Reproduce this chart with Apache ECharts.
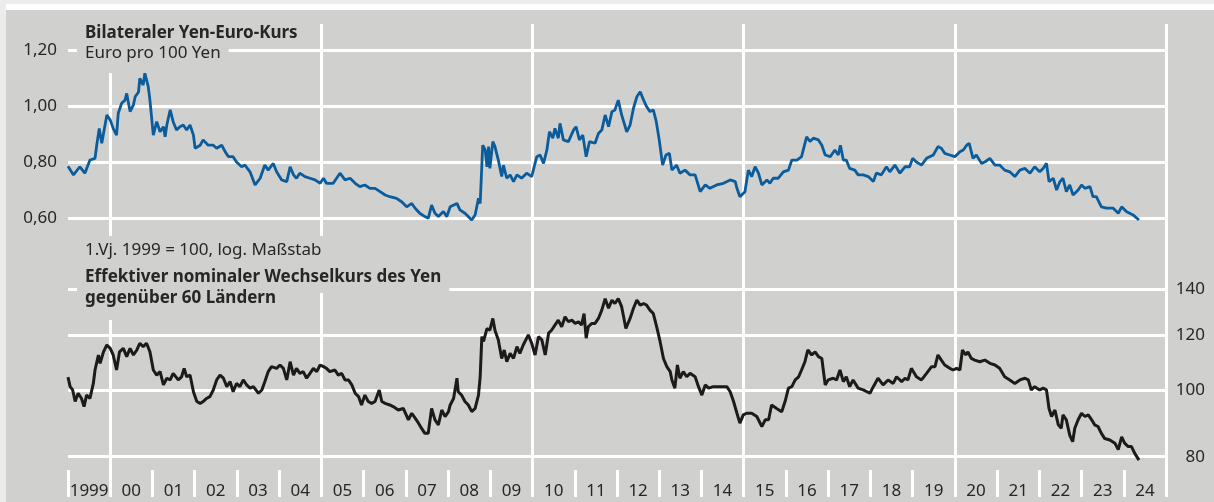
<!DOCTYPE html>
<html>
<head>
<meta charset="utf-8">
<script src="https://cdn.jsdelivr.net/npm/echarts@6/dist/echarts.min.js"></script>
<style>
  html, body { margin: 0; padding: 0; background: #ececec; }
  .strip { position: absolute; left: 6px; top: 4px; width: 1208px; height: 6px; background: #fff; }
  .panel { position: absolute; left: 6px; top: 10px; width: 1208px; height: 492px; background: #d0d0ce; }
  #chart { position: absolute; left: 0; top: 0; width: 1214px; height: 502px; }
</style>
</head>
<body>
<div class="strip"></div>
<div class="panel"></div>
<div id="chart"></div>
<script>
// Jahresachse
const years = ['1999', '00', '01', '02', '03', '04', '05', '06', '07', '08', '09', '10', '11', '12',
  '13', '14', '15', '16', '17', '18', '19', '20', '21', '22', '23', '24']
// Achsenbeschriftung unten (log. Maßstab)
const effTicks = [80, 100, 120, 140]

// Euro pro 100 Yen
const euroKurs = [
  [1999.00, 0.785], [1999.13, 0.754], [1999.28, 0.783], [1999.40, 0.760], [1999.52, 0.807], [1999.64, 0.813],
  [1999.68, 0.860], [1999.74, 0.920], [1999.80, 0.867], [1999.92, 0.968], [2000.00, 0.950], [2000.07, 0.920],
  [2000.15, 0.896], [2000.19, 0.974], [2000.27, 1.010], [2000.35, 1.021], [2000.39, 1.045], [2000.47, 0.980],
  [2000.55, 1.004], [2000.59, 1.033], [2000.67, 1.050], [2000.70, 1.099], [2000.78, 1.075], [2000.82, 1.117],
  [2000.90, 1.069], [2000.94, 1.021], [2001.02, 0.896], [2001.10, 0.944], [2001.18, 0.908], [2001.26, 0.926],
  [2001.30, 0.890], [2001.34, 0.932], [2001.42, 0.986], [2001.49, 0.944], [2001.57, 0.914], [2001.65, 0.926],
  [2001.73, 0.932], [2001.81, 0.914], [2001.89, 0.932], [2001.97, 0.896], [2002.01, 0.849], [2002.13, 0.860],
  [2002.20, 0.879], [2002.32, 0.860], [2002.44, 0.860], [2002.52, 0.849], [2002.64, 0.860], [2002.72, 0.837],
  [2002.80, 0.819], [2002.91, 0.819], [2002.99, 0.800], [2003.11, 0.783], [2003.19, 0.789], [2003.31, 0.765],
  [2003.43, 0.718], [2003.55, 0.742], [2003.66, 0.789], [2003.74, 0.771], [2003.86, 0.795], [2003.94, 0.765],
  [2004.06, 0.736], [2004.18, 0.730], [2004.26, 0.783], [2004.34, 0.754], [2004.41, 0.742], [2004.49, 0.760],
  [2004.61, 0.748], [2004.73, 0.742], [2004.85, 0.736], [2004.97, 0.724], [2005.05, 0.742], [2005.12, 0.724],
  [2005.28, 0.724], [2005.44, 0.760], [2005.56, 0.736], [2005.68, 0.742], [2005.80, 0.724], [2005.91, 0.712],
  [2006.03, 0.718], [2006.15, 0.706], [2006.27, 0.706], [2006.39, 0.694], [2006.51, 0.682], [2006.62, 0.676],
  [2006.78, 0.670], [2006.90, 0.658], [2007.02, 0.640], [2007.14, 0.652], [2007.22, 0.635], [2007.33, 0.617],
  [2007.45, 0.605], [2007.53, 0.599], [2007.61, 0.646], [2007.69, 0.617], [2007.77, 0.605], [2007.89, 0.623],
  [2007.97, 0.605], [2008.05, 0.640], [2008.09, 0.646], [2008.21, 0.652], [2008.28, 0.629], [2008.40, 0.617],
  [2008.56, 0.593], [2008.64, 0.611], [2008.72, 0.670], [2008.76, 0.652], [2008.82, 0.860], [2008.88, 0.843],
  [2008.92, 0.783], [2008.96, 0.855], [2008.99, 0.777], [2009.06, 0.873], [2009.11, 0.855], [2009.19, 0.807],
  [2009.27, 0.748], [2009.31, 0.789], [2009.39, 0.742], [2009.47, 0.754], [2009.55, 0.730], [2009.63, 0.754],
  [2009.74, 0.742], [2009.86, 0.760], [2009.98, 0.748], [2010.10, 0.819], [2010.18, 0.825], [2010.26, 0.795],
  [2010.34, 0.843], [2010.40, 0.908], [2010.48, 0.885], [2010.53, 0.920], [2010.61, 0.885], [2010.65, 0.938],
  [2010.73, 0.879], [2010.85, 0.873], [2010.97, 0.914], [2011.03, 0.926], [2011.11, 0.879], [2011.19, 0.896],
  [2011.27, 0.819], [2011.35, 0.873], [2011.48, 0.867], [2011.56, 0.902], [2011.64, 0.914], [2011.72, 0.968],
  [2011.80, 0.926], [2011.88, 0.980], [2011.95, 0.986], [2012.03, 1.021], [2012.11, 0.968], [2012.23, 0.908],
  [2012.31, 0.932], [2012.39, 0.992], [2012.47, 1.033], [2012.55, 1.051], [2012.63, 1.021], [2012.70, 0.998],
  [2012.78, 0.980], [2012.86, 0.986], [2012.93, 0.944], [2013.00, 0.879], [2013.08, 0.789], [2013.16, 0.825],
  [2013.24, 0.831], [2013.30, 0.771], [2013.41, 0.789], [2013.49, 0.760], [2013.61, 0.771], [2013.73, 0.754],
  [2013.85, 0.754], [2013.97, 0.694], [2014.09, 0.718], [2014.20, 0.706], [2014.36, 0.718], [2014.52, 0.724],
  [2014.68, 0.736], [2014.80, 0.730], [2014.84, 0.706], [2014.91, 0.676], [2015.03, 0.694], [2015.11, 0.771],
  [2015.19, 0.748], [2015.27, 0.783], [2015.35, 0.760], [2015.43, 0.718], [2015.55, 0.736], [2015.62, 0.724],
  [2015.70, 0.742], [2015.82, 0.742], [2015.94, 0.765], [2016.06, 0.771], [2016.14, 0.807], [2016.26, 0.807],
  [2016.37, 0.819], [2016.49, 0.890], [2016.57, 0.873], [2016.65, 0.885], [2016.77, 0.879], [2016.85, 0.860],
  [2016.93, 0.825], [2017.05, 0.819], [2017.08, 0.825], [2017.16, 0.843], [2017.24, 0.825], [2017.29, 0.860],
  [2017.36, 0.807], [2017.43, 0.807], [2017.51, 0.777], [2017.63, 0.771], [2017.71, 0.754], [2017.83, 0.754],
  [2017.95, 0.748], [2018.07, 0.730], [2018.14, 0.760], [2018.26, 0.754], [2018.38, 0.783], [2018.46, 0.765],
  [2018.58, 0.789], [2018.70, 0.760], [2018.82, 0.783], [2018.93, 0.783], [2019.00, 0.813], [2019.09, 0.800],
  [2019.21, 0.789], [2019.33, 0.813], [2019.49, 0.825], [2019.60, 0.855], [2019.68, 0.849], [2019.76, 0.831],
  [2019.88, 0.825], [2020.00, 0.819], [2020.12, 0.837], [2020.20, 0.843], [2020.28, 0.860], [2020.34, 0.867],
  [2020.43, 0.813], [2020.51, 0.825], [2020.63, 0.795], [2020.71, 0.800], [2020.83, 0.813], [2020.95, 0.789],
  [2021.06, 0.789], [2021.18, 0.771], [2021.30, 0.765], [2021.42, 0.748], [2021.54, 0.771], [2021.66, 0.777],
  [2021.78, 0.760], [2021.89, 0.783], [2022.01, 0.765], [2022.09, 0.777], [2022.17, 0.795], [2022.23, 0.730],
  [2022.33, 0.742], [2022.41, 0.700], [2022.49, 0.730], [2022.56, 0.742], [2022.64, 0.694], [2022.72, 0.718],
  [2022.80, 0.682], [2022.92, 0.700], [2023.00, 0.718], [2023.08, 0.706], [2023.20, 0.712], [2023.27, 0.676],
  [2023.35, 0.676], [2023.47, 0.640], [2023.59, 0.635], [2023.75, 0.635], [2023.87, 0.617], [2023.95, 0.640],
  [2024.06, 0.623], [2024.22, 0.611], [2024.36, 0.593]
]

// Effektiver nominaler Wechselkurs, 1.Vj. 1999 = 100
const effektiv = [
  [1999.00, 104.4], [1999.05, 101.1], [1999.11, 100.0], [1999.17, 96.2], [1999.24, 98.9], [1999.32, 97.2],
  [1999.38, 94.6], [1999.44, 98.3], [1999.52, 97.2], [1999.60, 102.2], [1999.64, 106.9], [1999.72, 112.4],
  [1999.76, 109.3], [1999.84, 113.6], [1999.92, 116.2], [2000.00, 114.9], [2000.07, 112.4], [2000.15, 106.9],
  [2000.22, 113.6], [2000.31, 114.9], [2000.39, 111.8], [2000.47, 114.9], [2000.55, 112.4], [2000.63, 114.3],
  [2000.70, 116.9], [2000.78, 115.6], [2000.86, 116.9], [2000.94, 113.6], [2001.02, 106.9], [2001.10, 105.1],
  [2001.18, 106.3], [2001.26, 101.7], [2001.34, 104.0], [2001.42, 103.4], [2001.49, 105.7], [2001.61, 103.4],
  [2001.69, 104.5], [2001.75, 107.5], [2001.81, 104.5], [2001.89, 105.1], [2001.97, 99.4], [2002.05, 96.2],
  [2002.13, 95.6], [2002.20, 96.2], [2002.28, 97.2], [2002.36, 97.8], [2002.44, 100.0], [2002.52, 103.4],
  [2002.60, 105.1], [2002.68, 104.0], [2002.76, 101.1], [2002.84, 102.8], [2002.91, 99.4], [2002.99, 102.2],
  [2003.07, 101.1], [2003.15, 103.4], [2003.23, 101.7], [2003.31, 100.6], [2003.39, 101.1], [2003.51, 98.9],
  [2003.59, 100.0], [2003.66, 102.8], [2003.74, 106.3], [2003.82, 108.1], [2003.94, 107.5], [2004.02, 108.7],
  [2004.10, 107.5], [2004.18, 103.4], [2004.26, 109.9], [2004.34, 105.1], [2004.41, 107.5], [2004.49, 105.7],
  [2004.57, 106.3], [2004.65, 104.0], [2004.73, 105.7], [2004.81, 107.5], [2004.89, 106.3], [2004.97, 108.7],
  [2005.05, 108.1], [2005.12, 107.5], [2005.20, 106.3], [2005.32, 106.9], [2005.40, 105.1], [2005.48, 105.7],
  [2005.56, 103.4], [2005.64, 103.4], [2005.72, 101.7], [2005.80, 98.9], [2005.88, 97.8], [2005.95, 95.1],
  [2006.03, 98.3], [2006.11, 96.2], [2006.19, 95.6], [2006.27, 96.2], [2006.37, 100.0], [2006.43, 96.2],
  [2006.51, 95.6], [2006.62, 95.1], [2006.70, 94.6], [2006.82, 93.5], [2006.94, 94.0], [2007.06, 90.5],
  [2007.14, 92.5], [2007.22, 91.0], [2007.30, 89.5], [2007.37, 88.0], [2007.45, 86.5], [2007.53, 86.5],
  [2007.61, 94.0], [2007.69, 90.5], [2007.77, 89.0], [2007.85, 93.5], [2007.93, 91.5], [2008.01, 93.0],
  [2008.05, 95.1], [2008.13, 97.2], [2008.21, 104.0], [2008.24, 99.4], [2008.32, 98.3], [2008.40, 96.2],
  [2008.48, 95.1], [2008.56, 93.0], [2008.64, 94.0], [2008.72, 98.3], [2008.76, 104.5], [2008.80, 119.5],
  [2008.84, 117.6], [2008.92, 122.8], [2008.99, 122.1], [2009.06, 127.0], [2009.11, 122.1], [2009.19, 118.2],
  [2009.27, 111.1], [2009.33, 114.3], [2009.39, 109.9], [2009.47, 113.0], [2009.55, 111.1], [2009.63, 115.6],
  [2009.70, 113.0], [2009.78, 116.2], [2009.90, 120.2], [2009.98, 116.9], [2010.06, 112.4], [2010.14, 119.5],
  [2010.22, 118.2], [2010.30, 112.4], [2010.38, 120.9], [2010.45, 122.1], [2010.53, 124.2], [2010.61, 126.3],
  [2010.69, 123.5], [2010.77, 127.7], [2010.85, 125.6], [2010.93, 126.3], [2011.01, 124.9], [2011.09, 125.6],
  [2011.16, 124.2], [2011.22, 129.1], [2011.27, 118.9], [2011.32, 123.5], [2011.40, 124.9], [2011.48, 124.9],
  [2011.56, 127.0], [2011.64, 130.6], [2011.72, 135.7], [2011.80, 131.4], [2011.88, 135.0], [2011.95, 133.5],
  [2012.03, 135.7], [2012.11, 132.1], [2012.21, 122.8], [2012.31, 127.0], [2012.39, 131.4], [2012.47, 135.0],
  [2012.55, 132.8], [2012.63, 133.5], [2012.70, 132.8], [2012.78, 130.6], [2012.86, 129.1], [2012.94, 123.5],
  [2013.02, 117.6], [2013.10, 111.1], [2013.18, 108.1], [2013.26, 106.3], [2013.30, 103.4], [2013.37, 100.6],
  [2013.43, 108.7], [2013.49, 104.0], [2013.57, 106.3], [2013.65, 104.5], [2013.73, 105.7], [2013.85, 104.5],
  [2013.93, 101.1], [2014.01, 98.3], [2014.09, 101.7], [2014.17, 100.6], [2014.28, 101.1], [2014.40, 101.1],
  [2014.52, 101.1], [2014.60, 101.1], [2014.68, 99.4], [2014.76, 96.2], [2014.84, 92.5], [2014.91, 89.5],
  [2014.99, 92.0], [2015.07, 92.5], [2015.19, 92.5], [2015.31, 91.5], [2015.43, 88.5], [2015.51, 90.5],
  [2015.59, 90.5], [2015.66, 95.1], [2015.78, 94.0], [2015.90, 93.0], [2015.98, 96.2], [2016.06, 100.6],
  [2016.14, 101.1], [2016.22, 103.4], [2016.30, 104.5], [2016.37, 106.9], [2016.45, 109.9], [2016.52, 114.3],
  [2016.61, 112.4], [2016.69, 113.6], [2016.77, 111.8], [2016.85, 111.1], [2016.93, 101.7], [2017.00, 103.4],
  [2017.12, 104.0], [2017.20, 103.4], [2017.28, 106.9], [2017.36, 102.8], [2017.43, 104.5], [2017.51, 101.1],
  [2017.59, 103.4], [2017.71, 100.6], [2017.83, 100.0], [2017.99, 98.9], [2018.07, 101.1], [2018.18, 104.0],
  [2018.30, 101.7], [2018.42, 103.4], [2018.54, 102.2], [2018.62, 104.5], [2018.74, 102.8], [2018.82, 104.0],
  [2018.89, 103.4], [2018.97, 107.5], [2019.09, 104.5], [2019.21, 103.4], [2019.33, 105.7], [2019.45, 108.1],
  [2019.53, 108.1], [2019.60, 112.4], [2019.68, 110.5], [2019.76, 108.7], [2019.88, 107.5], [2019.96, 106.9],
  [2020.04, 107.5], [2020.12, 106.9], [2020.18, 114.3], [2020.26, 112.4], [2020.31, 113.6], [2020.39, 111.1],
  [2020.47, 110.5], [2020.59, 109.9], [2020.71, 110.5], [2020.83, 109.3], [2020.95, 108.7], [2021.06, 107.5],
  [2021.18, 104.5], [2021.30, 103.4], [2021.42, 102.2], [2021.54, 103.4], [2021.66, 104.0], [2021.74, 103.4],
  [2021.81, 100.0], [2021.89, 101.1], [2022.01, 100.0], [2022.09, 100.6], [2022.17, 100.0], [2022.23, 94.0],
  [2022.29, 91.5], [2022.37, 93.5], [2022.45, 89.0], [2022.52, 88.0], [2022.56, 92.0], [2022.64, 90.5],
  [2022.72, 86.0], [2022.79, 84.1], [2022.84, 88.0], [2022.92, 90.5], [2023.00, 92.5], [2023.08, 91.5],
  [2023.16, 92.0], [2023.24, 90.5], [2023.31, 89.0], [2023.39, 88.5], [2023.47, 86.5], [2023.55, 85.0],
  [2023.67, 84.6], [2023.79, 83.7], [2023.87, 81.9], [2023.95, 85.5], [2024.02, 83.7], [2024.10, 82.8],
  [2024.18, 82.8], [2024.26, 80.9], [2024.36, 79.1]
]

const font = '"Noto Sans", "DejaVu Sans", sans-serif'
const panelColor = '#d0d0ce'
const textColor = '#262626'
const gridLine = { color: '#ffffff', width: 3 }

function titleBox(text, top, padding, bold) {
  return {
    text: text,
    left: 77,
    top: top,
    padding: padding,
    backgroundColor: panelColor,
    textStyle: {
      fontFamily: font,
      fontSize: 17,
      lineHeight: 20,
      fontWeight: bold ? 'bold' : 'normal',
      color: textColor
    }
  }
}

const chart = echarts.init(document.getElementById('chart'))
chart.setOption({
  animation: false,
  title: [
    titleBox('Bilateraler Yen-Euro-Kurs', 23, [0, 8, 2, 8], true),
    titleBox('Euro pro 100 Yen', 43, [0, 8, 10, 8], false),
    titleBox('1.Vj. 1999 = 100, log. Maßstab', 236, [4, 8, 3, 8], false),
    titleBox('Effektiver nominaler Wechselkurs des Yen', 262, [5, 8, 6, 8], true),
    titleBox('gegenüber 60 Ländern', 288, [0, 8, 12, 8], true)
  ],
  grid: [
    { left: 68, right: 48, top: 50, height: 168 },
    { left: 68, right: 48, top: 289.3, height: 167.4 },
    { left: 68, right: 48, top: 24, height: 446 }
  ],
  xAxis: [
    { gridIndex: 0, type: 'value', min: 1999, max: 2025, show: false },
    { gridIndex: 1, type: 'value', min: 1999, max: 2025, show: false },
    {
      gridIndex: 2,
      type: 'category',
      data: years,
      boundaryGap: true,
      axisLine: { show: false },
      axisTick: { show: true, interval: 0, length: 27, lineStyle: gridLine },
      axisLabel: { interval: 0, margin: 13, color: textColor, fontSize: 17, fontFamily: font },
      splitLine: { show: true, interval: (i) => i % 5 === 1, lineStyle: gridLine }
    }
  ],
  yAxis: [
    {
      gridIndex: 0,
      type: 'value',
      min: 0.6,
      max: 1.2,
      interval: 0.2,
      axisLine: { show: false },
      axisTick: { show: false },
      axisLabel: {
        margin: 11,
        color: textColor,
        fontSize: 17,
        fontFamily: font,
        formatter: (v) => v.toFixed(2).replace('.', ',')
      },
      splitLine: { lineStyle: gridLine }
    },
    { gridIndex: 1, type: 'log', logBase: 10, min: 80, max: 140, show: false },
    { gridIndex: 2, type: 'value', show: false }
  ],
  series: [
    {
      name: 'Euro pro 100 Yen',
      type: 'line',
      xAxisIndex: 0,
      yAxisIndex: 0,
      data: euroKurs,
      symbol: 'none',
      clip: false,
      z: 3,
      lineStyle: { color: '#0a5c9c', width: 2.8 }
    },
    {
      name: 'Effektiver Wechselkurs',
      type: 'line',
      xAxisIndex: 1,
      yAxisIndex: 1,
      data: effektiv,
      symbol: 'none',
      clip: false,
      z: 3,
      lineStyle: { color: '#1c1a1a', width: 3 },
      markLine: {
        silent: true,
        symbol: 'none',
        z: 1,
        lineStyle: { color: '#ffffff', width: 3, type: 'solid' },
        label: {
          position: 'end',
          distance: 39,
          align: 'right',
          color: textColor,
          fontSize: 17,
          fontFamily: font,
          formatter: '{c}'
        },
        data: effTicks.map((v) => ({ yAxis: v }))
      }
    }
  ]
})
</script>
</body>
</html>
